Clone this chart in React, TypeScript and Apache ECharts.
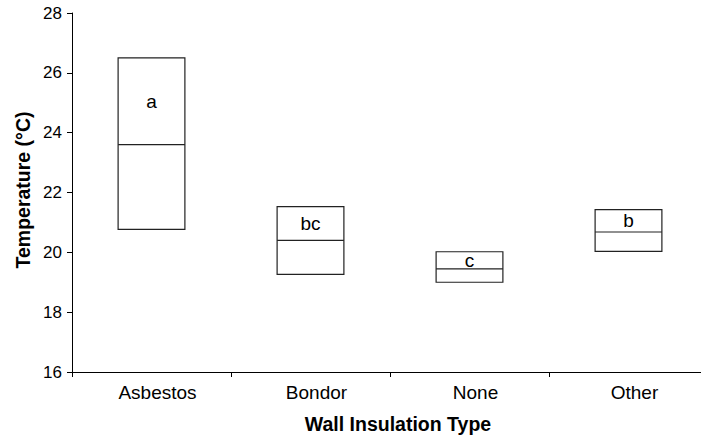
import React, { useEffect, useRef } from "react";
import * as echarts from "echarts";

const categories = ["Asbestos", "Bondor", "None", "Other"];
const lows = [20.77, 19.26, 19.0, 20.03];
const medians = [23.6, 20.4, 19.45, 20.68];
const highs = [26.5, 21.53, 20.02, 21.43];
const letters = ["a", "bc", "c", "b"];
const yTicks = { min: 16, max: 28, interval: 2 };

const FONT = "'Liberation Sans', Arial, Helvetica, sans-serif";

export default function App() {
  const ref = useRef<HTMLDivElement>(null);
  useEffect(() => {
    if (!ref.current) return;
    const chart = echarts.init(ref.current, undefined, { renderer: "svg" });
    const data = categories.map((_, i) => [i, lows[i], medians[i], highs[i]]);
    chart.setOption({
      animation: false,
      backgroundColor: "#ffffff",
      textStyle: { fontFamily: FONT },
      grid: { left: 72, top: 13, height: 359, width: 636, outerBoundsMode: "none", containLabel: false },
      xAxis: {
        type: "category",
        data: categories,
        boundaryGap: true,
        axisLine: { show: true, lineStyle: { color: "#000", width: 1 } },
        axisTick: { show: true, length: 5, alignWithLabel: false, lineStyle: { color: "#000" } },
        axisLabel: { color: "#000", fontSize: 19, margin: 11, fontFamily: FONT, padding: [0, 0, 0, 12] },
        splitLine: { show: false },
      },
      yAxis: {
        type: "value",
        min: yTicks.min,
        max: yTicks.max,
        interval: yTicks.interval,
        axisLine: { show: true, lineStyle: { color: "#000", width: 1 } },
        axisTick: { show: true, length: 5, lineStyle: { color: "#000" } },
        axisLabel: { color: "#000", fontSize: 17, margin: 10, fontFamily: FONT },
        splitLine: { show: false },
      },
      graphic: [
        {
          type: "text",
          x: 23,
          y: 190,
          rotation: Math.PI / 2,
          style: {
            text: "Temperature (°C)",
            fontSize: 19.5,
            fontWeight: "bold",
            fontFamily: FONT,
            fill: "#000",
            align: "center",
            verticalAlign: "middle",
          },
        },
        {
          type: "text",
          x: 398,
          y: 424,
          style: {
            text: "Wall Insulation Type",
            fontSize: 19.5,
            fontWeight: "bold",
            fontFamily: FONT,
            fill: "#000",
            align: "center",
            verticalAlign: "middle",
          },
        },
      ],
      series: [
        {
          type: "custom",
          data,
          encode: { x: 0, y: [1, 2, 3] },
          renderItem: (params: any, api: any) => {
            const xi = api.value(0);
            const pLow = api.coord([xi, api.value(1)]);
            const pMed = api.coord([xi, api.value(2)]);
            const pHigh = api.coord([xi, api.value(3)]);
            const bw = api.size([1, 0])[0] * 0.42;
            const x0 = pHigh[0] - bw / 2;
            return {
              type: "group",
              children: [
                {
                  type: "rect",
                  shape: { x: x0, y: pHigh[1], width: bw, height: pLow[1] - pHigh[1] },
                  style: { fill: "#fff", stroke: "#222", lineWidth: 1.2 },
                },
                {
                  type: "line",
                  shape: { x1: x0, y1: pMed[1], x2: x0 + bw, y2: pMed[1] },
                  style: { stroke: "#222", lineWidth: 1.2 },
                },
                {
                  type: "text",
                  x: pHigh[0],
                  y: (pHigh[1] + pMed[1]) / 2,
                  style: {
                    text: letters[params.dataIndex],
                    fontSize: 19,
                    fontFamily: FONT,
                    fill: "#000",
                    align: "center",
                    verticalAlign: "middle",
                  },
                },
              ],
            };
          },
        },
      ],
    });
    return () => chart.dispose();
  }, []);
  return (
    <div
      ref={ref}
      style={{ position: "fixed", left: 0, top: 0, width: 701, height: 436, background: "#fff" }}
    />
  );
}
